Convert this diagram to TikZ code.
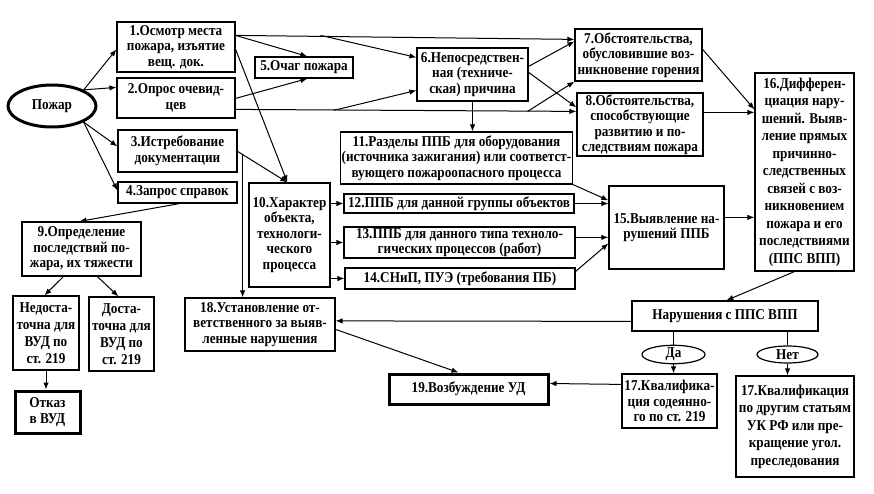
\documentclass[tikz,border=0pt]{standalone}
\usepackage{fontspec}
\setmainfont{Liberation Serif}[FakeStretch=0.88]
\usetikzlibrary{arrows.meta,shapes.geometric,calc}
\newcommand\boxfont{\fontsize{15}{15.5}\selectfont\bfseries}
\begin{document}
\begin{tikzpicture}[x=1pt,y=-1pt,
  box/.style={draw, line width=1.2pt, align=center, inner sep=1pt, font=\boxfont},
  thickbox/.style={box, line width=3pt},
  oval/.style={draw, ellipse, line width=1.2pt, inner sep=0pt, font=\boxfont},
  ln/.style={line width=1pt},
  arr/.style={line width=1pt, -{Latex[length=7pt,width=5.5pt]}}]
\fill[white] (0,0) rectangle (874,494);
\useasboundingbox (0,0) rectangle (874,494);

% nodes
\node[oval, line width=3pt, minimum width=88pt, minimum height=42pt] (ell) at (52,106) {Пожар};
\node[box, minimum width=118pt, minimum height=50pt] (b1) at (176,47) {1.Осмотр места\\пожара, изъятие\\вещ. док.};
\node[box, minimum width=118pt, minimum height=40pt] (b2) at (176,98) {2.Опрос очевид-\\цев};
\node[box, minimum width=119pt, minimum height=42pt] (b3) at (177.5,151) {3.Истребование\\документации};
\node[box, minimum width=119pt, minimum height=21pt] (b4) at (177.5,192.5) {4.Запрос справок};
\node[box, minimum width=98pt, minimum height=21pt] (b5) at (304,67.5) {5.Очаг пожара};
\node[box, minimum width=111pt, minimum height=53pt] (b6) at (472.5,74.5) {6.Непосредствен-\\ная (техниче-\\ская) причина};
\node[box, minimum width=127pt, minimum height=52pt] (b7) at (638.5,55) {7.Обстоятельства,\\обусловившие воз-\\никновение горения};
\node[box, minimum width=126pt, minimum height=63pt] (b8) at (640,124.5) {8.Обстоятельства,\\способствующие\\развитию и по-\\следствиям пожара};
\node[box, minimum width=119pt, minimum height=54pt] (b9) at (81.5,249) {9.Определение\\последствий по-\\жара, их тяжести};
\node[box, minimum width=81pt, minimum height=104pt] (b10) at (289.5,235) {10.Характер\\объекта,\\технологи-\\ческого\\процесса};
\node[box, minimum width=227pt, minimum height=52pt] (b11) at (456.5,158) {11.Разделы ППБ для оборудования\\(источника зажигания) или соответст-\\вующего пожароопасного процесса};
\node[box, minimum width=230pt, minimum height=19pt] (b12) at (459,203.5) {12.ППБ для данной группы объектов};
\node[box, minimum width=231pt, minimum height=31pt] (b13) at (459.5,242.5) {13.ППБ для данного типа техноло-\\гических процессов (работ)};
\node[box, minimum width=230pt, minimum height=21pt] (b14) at (460,278.5) {14.СНиП, ПУЭ (требования ПБ)};
\node[box, minimum width=115pt, minimum height=83pt] (b15) at (666.5,227.5) {15.Выявление на-\\рушений ППБ};
\node[box, minimum width=99pt, minimum height=198pt, font=\fontsize{15}{17.5}\selectfont\bfseries] (b16) at (804.5,172) {16.Дифферен-\\циация нару-\\шений. Выяв-\\ление прямых\\причинно-\\следственных\\связей с воз-\\никновением\\пожара и его\\последствиями\\(ППС ВПП)};
\node[box, minimum width=66pt, minimum height=74pt, font=\fontsize{15}{17}\selectfont\bfseries] (bNed) at (46,333) {Недоста-\\точна для\\ВУД по\\ст. 219};
\node[box, minimum width=65pt, minimum height=74pt, font=\fontsize{15}{17}\selectfont\bfseries] (bDos) at (121.5,334) {Доста-\\точна для\\ВУД по\\ст. 219};
\node[thickbox, minimum width=65pt, minimum height=42pt] (bOtk) at (47.5,412) {Отказ\\в ВУД};
\node[box, minimum width=150pt, minimum height=53pt] (b18) at (260,324.5) {18.Установление от-\\ветственного за выяв-\\ленные нарушения};
\node[thickbox, minimum width=159pt, minimum height=30pt] (b19) at (468.5,389) {19.Возбуждение УД};
\node[box, minimum width=186pt, minimum height=30pt] (bN) at (725,316) {Нарушения с ППС ВПП};
\node[oval, minimum width=63pt, minimum height=17pt] (eDa) at (673.5,354.5) {Да};
\node[oval, minimum width=61pt, minimum height=17pt] (eNet) at (787.5,354.5) {Нет};
\node[box, minimum width=95pt, minimum height=54pt] (b17a) at (669.5,401) {17.Квалифика-\\ция содеянно-\\го по ст. 219};
\node[box, minimum width=118pt, minimum height=101pt, font=\fontsize{15}{17.5}\selectfont\bfseries] (b17b) at (795,426.5) {17.Квалификация\\по другим статьям\\УК РФ или пре-\\кращение угол.\\преследования};

% junctions
\coordinate (j1) at ($(b1.north east)+(85,14)$);
\coordinate (j2a) at ($(b2.north east)+(98,33)$);
\coordinate (j2b) at ($(b2.north east)+(292,34)$);
\coordinate (j3) at ($(b3.north east)+(5,25)$);

% connectors from Пожар
\draw[arr] (ell.27) -- ($(b1.north west)+(0,28)$);
\draw[arr] (ell.27) -- ($(b2.north west)+(0,10)$);
\draw[arr] (ell.-27) -- ($(b3.north west)+(0,17)$);
\draw[arr] (ell.-27) -- ($(b4.north west)+(0,9)$);
% 4 -> 9 and below
\draw[arr] ($(b4.south west)+(62,0)$) -- ($(b9.north west)+(58,0)$);
\draw[arr] ($(b9.south west)+(42,0)$) -- ($(bNed.north west)+(32,0)$);
\draw[arr] ($(b9.south west)+(76,0)$) -- ($(bDos.north west)+(30,0)$);
\draw[arr] (bNed.south) -- (bNed.south |- bOtk.north);
% from 1
\draw[arr] ($(b1.north east)+(0,14)$) -- ($(b7.north west)+(0,11)$);
\draw[arr] ($(b1.north east)+(0,14)$) -- ($(b5.north west)+(53,0)$);
\draw[arr] (j1) -- ($(b6.north west)+(0,10)$);
\draw[arr] ($(b1.north east)+(0,28)$) -- ($(b10.north west)+(39,0)$);
% from 2
\draw[arr] ($(b2.north east)+(0,21)$) -- ($(b5.south west)+(53,0)$);
\draw[arr] ($(b2.north east)+(0,32)$) -- ($(b8.north west)+(0,19)$);
\draw[arr] (j2a) -- ($(b6.north west)+(0,43)$);
\draw[arr] (j2b) -- (b7.south west);
% from 3
\draw[arr] ($(b3.north east)+(0,22)$) -- ($(b10.north west)+(39,0)$);
\draw[arr] (j3) -- (j3 |- b18.north);
% from 6
\draw[arr] ($(b6.north east)+(0,19)$) -- ($(b7.north west)+(0,13)$);
\draw[arr] ($(b6.north east)+(0,25)$) -- ($(b8.north west)+(0,15)$);
\draw[arr] (b6.south) -- (b6.south |- b11.north);
% from 10
\draw[arr] (b12.west -| b10.east) -- (b12.west);
\draw[arr] (b13.west -| b10.east) -- (b13.west);
\draw[arr] (b14.west -| b10.east) -- (b14.west);
% into 15
\draw[arr] (b11.south east) -- ($(b15.north west)+(0,15)$);
\draw[arr] (b12.east) -- (b12.east -| b15.west);
\draw[arr] ($(b13.north east)+(0,11)$) -- ($(b15.north west)+(0,52)$);
\draw[arr] ($(b14.north east)+(0,4)$) -- ($(b15.north west)+(0,58)$);
% into 16
\draw[arr] ($(b15.north east)+(0,32)$) -- ($(b16.north west)+(0,145)$);
\draw[arr] ($(b7.north east)+(0,21)$) -- ($(b16.north west)+(0,37)$);
\draw[arr] ($(b8.north east)+(0,20)$) -- ($(b16.north west)+(0,40)$);
% from 16
\draw[arr] ($(b16.south west)+(40,0)$) -- ($(bN.north west)+(95,0)$);
\draw[arr] ($(bN.north west)+(0,21)$) -- ($(b18.north east)+(0,23.5)$);
\draw[ln] (eDa.north |- bN.south) -- (eDa.north);
\draw[arr] (eDa.south) -- (eDa.south |- b17a.north);
\draw[ln] (eNet.north |- bN.south) -- (eNet.north);
\draw[arr] (eNet.south) -- (eNet.south |- b17b.north);
\draw[arr] ($(b17a.north west)+(0,11)$) -- ($(b19.north east)+(0,11)$);
\draw[arr] ($(b18.north east)+(0,32)$) -- ($(b19.north west)+(71,0)$);
\end{tikzpicture}
\end{document}
